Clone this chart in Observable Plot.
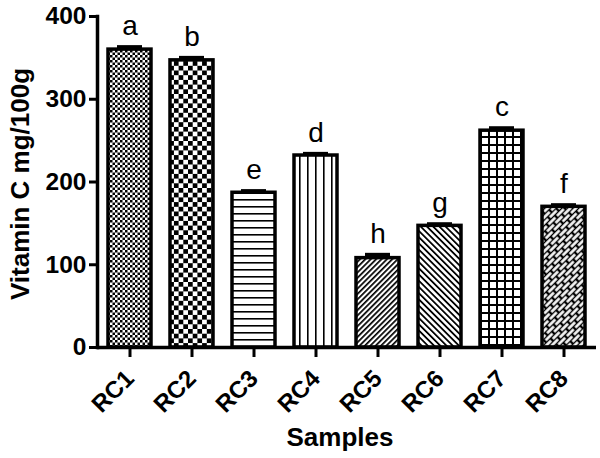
<!DOCTYPE html>
<html>
<head>
<meta charset="utf-8">
<script src="https://cdn.jsdelivr.net/npm/d3@7"></script>
<script src="https://cdn.jsdelivr.net/npm/@observablehq/plot@0.6"></script>
<style>
  html, body { margin: 0; padding: 0; background: white; }
</style>
</head>
<body>
<div id="chart"></div>
<script>
// ---- data ----
const samples = ["RC1", "RC2", "RC3", "RC4", "RC5", "RC6", "RC7", "RC8"];
const vitaminC = [360, 347, 187, 232, 108, 147, 262, 170];
const sem = [3, 3, 2, 2, 4, 2, 3, 2];
const letters = ["a", "b", "e", "d", "h", "g", "c", "f"];
const yTicks = [0, 100, 200, 300, 400];

// ---- styles (fill patterns, one per bar) ----
const patternIds = ["pFine", "pCheck", "pHLines", "pVLines", "pDiagUp", "pDiagDown", "pGrid", "pWeave"];

const table = samples.map((s, i) => ({
  sample: s, value: vitaminC[i], err: sem[i], letter: letters[i],
  fill: `url(#${patternIds[i]})`
}));

const svg = Plot.plot({
  width: 600,
  height: 458,
  marginLeft: 97,
  marginRight: 4,
  marginTop: 16,
  marginBottom: 111,
  style: { fontFamily: "'Liberation Sans', Arial, sans-serif", background: "white", overflow: "visible" },
  x: { domain: samples, paddingInner: 0.3, paddingOuter: 0.15, axis: null },
  y: { domain: [0, 400], axis: null },
  color: { type: "identity" },
  marks: [
    Plot.barY(table, { x: "sample", y: "value", fill: "fill", stroke: "black", strokeWidth: 3.5 }),
    Plot.ruleX(table, { x: "sample", y1: "value", y2: d => d.value + d.err, stroke: "black", strokeWidth: 3 }),
    Plot.tickY(table, { x: "sample", y: d => d.value + d.err, stroke: "black", strokeWidth: 4, insetLeft: 9, insetRight: 9 }),
    Plot.text(table, { x: "sample", y: d => d.value + d.err, text: "letter", lineAnchor: "bottom", dy: -12, fontSize: 28, fontWeight: "normal", fill: "black" }),
    Plot.ruleY([0], { stroke: "black", strokeWidth: 3.5 }),
    Plot.frame({ anchor: "left", stroke: "black", strokeWidth: 3.5 }),
    Plot.axisY({ ticks: yTicks, tickSize: 8, tickPadding: 3, fontSize: 24.5, fontWeight: "bold", strokeWidth: 3, label: null, tickFormat: d => String(d) }),
    Plot.axisX({ tickRotate: -45, tickSize: 10, tickPadding: 17, fontSize: 24, fontWeight: "bold", strokeWidth: 3, label: null }),
    Plot.text(["Vitamin C mg/100g"], { text: d => d, frameAnchor: "left", textAnchor: "middle", lineAnchor: "middle", rotate: -90, dx: -77, dy: 2, fontSize: 26, fontWeight: "bold", fill: "black" }),
    Plot.text(["Samples"], { text: d => d, frameAnchor: "bottom", textAnchor: "middle", lineAnchor: "middle", dy: 90, dx: -7, fontSize: 26, fontWeight: "bold", fill: "black" })
  ]
});

// ---- pattern definitions ----
const defs = d3.select(svg).insert("defs", ":first-child");
function pat(id, w, h, transform) {
  const p = defs.append("pattern").attr("id", id).attr("patternUnits", "userSpaceOnUse")
    .attr("width", w).attr("height", h);
  if (transform) p.attr("patternTransform", transform);
  p.append("rect").attr("width", w).attr("height", h).attr("fill", "white");
  return p;
}
// RC1 fine checker
{ const c = 2.5, p = pat("pFine", 2 * c, 2 * c);
  p.append("rect").attr("x", 0).attr("y", 0).attr("width", c).attr("height", c).attr("fill", "black");
  p.append("rect").attr("x", c).attr("y", c).attr("width", c).attr("height", c).attr("fill", "black"); }
// RC2 coarse checker
{ const c = 4.7, p = pat("pCheck", 2 * c, 2 * c);
  p.append("rect").attr("x", 0).attr("y", 0).attr("width", c).attr("height", c).attr("fill", "black");
  p.append("rect").attr("x", c).attr("y", c).attr("width", c).attr("height", c).attr("fill", "black"); }
// RC3 horizontal lines
{ const p = pat("pHLines", 8, 7);
  p.append("rect").attr("x", 0).attr("y", 3).attr("width", 8).attr("height", 1.6).attr("fill", "black"); }
// RC4 vertical lines
{ const p = pat("pVLines", 8, 8);
  p.append("rect").attr("x", 3).attr("y", 0).attr("width", 1.6).attr("height", 8).attr("fill", "black"); }
// RC5 diagonal "/"
{ const p = pat("pDiagUp", 3.8, 10, "rotate(45)");
  p.append("rect").attr("x", 0).attr("y", 0).attr("width", 1.7).attr("height", 10).attr("fill", "black"); }
// RC6 diagonal "\"
{ const p = pat("pDiagDown", 4.4, 10, "rotate(-45)");
  p.append("rect").attr("x", 0).attr("y", 0).attr("width", 1.8).attr("height", 10).attr("fill", "black"); }
// RC7 grid
{ const p = pat("pGrid", 8, 8);
  p.append("rect").attr("x", 0).attr("y", 0).attr("width", 8).attr("height", 2).attr("fill", "black");
  p.append("rect").attr("x", 0).attr("y", 0).attr("width", 2).attr("height", 8).attr("fill", "black"); }
// RC8 weave (diagonal bricks)
{ const p = pat("pWeave", 12, 8, "rotate(-45)");
  p.select("rect").attr("fill", "black");
  p.append("rect").attr("x", 1.2).attr("y", 1.2).attr("width", 9.6).attr("height", 2.6).attr("fill", "white");
  p.append("rect").attr("x", 7.2).attr("y", 5.2).attr("width", 9.6).attr("height", 2.6).attr("fill", "white");
  p.append("rect").attr("x", -4.8).attr("y", 5.2).attr("width", 9.6).attr("height", 2.6).attr("fill", "white"); }

document.getElementById("chart").appendChild(svg);
</script>
</body>
</html>
